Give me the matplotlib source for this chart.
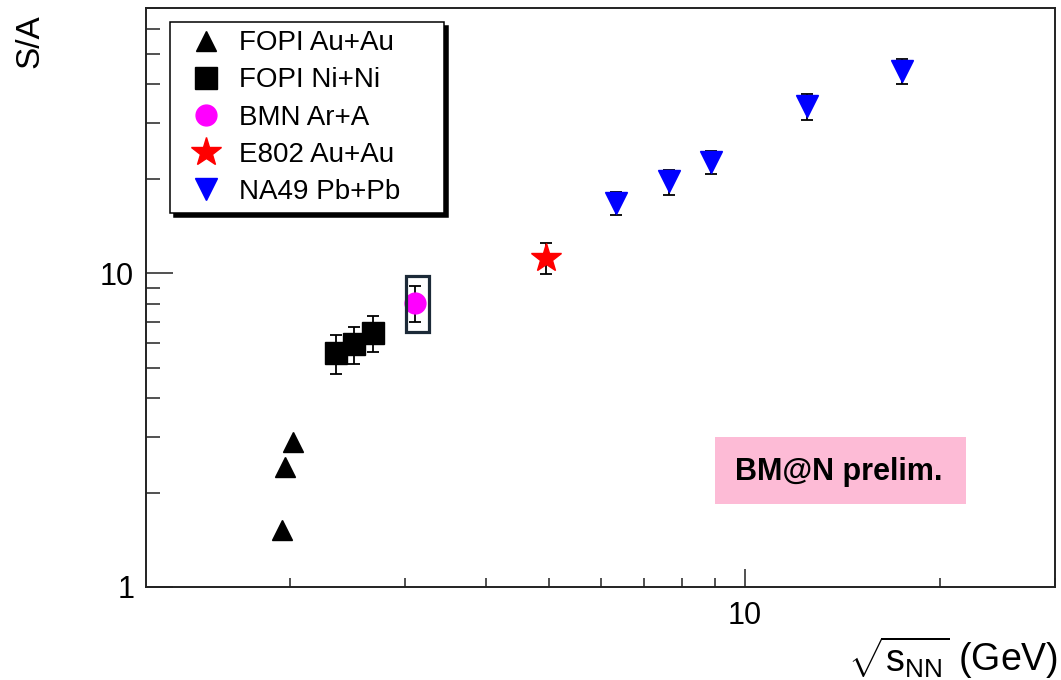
import numpy as np
import matplotlib
matplotlib.use("Agg")
import matplotlib.pyplot as plt
from matplotlib.ticker import NullFormatter, FormatStrFormatter, LogLocator
from matplotlib.patches import Rectangle

plt.rcParams['font.family'] = ['Liberation Sans', 'DejaVu Sans']
plt.rcParams['mathtext.fontset'] = 'custom'
plt.rcParams['mathtext.rm'] = 'Liberation Sans'
plt.rcParams['mathtext.it'] = 'Liberation Sans'

# data
fopi_au_x = [1.94, 1.96, 2.02]
fopi_au_y = [1.52, 2.41, 2.90]

fopi_ni_x = [2.35, 2.51, 2.68]
fopi_ni_y = [5.56, 5.94, 6.44]
fopi_ni_err = [0.80, 0.80, 0.85]

bmn_x = [3.11]
bmn_y = [8.03]
bmn_err = [1.05]

e802_x = [4.95]
e802_y = [11.2]
e802_err = [1.25]

na49_x = [6.34, 7.64, 8.87, 12.45, 17.47]
na49_y = [16.7, 19.6, 22.6, 34.0, 44.2]
na49_err = [1.4, 1.8, 1.9, 3.3, 4.0]

W, H = 1061, 680
fig = plt.figure(figsize=(W / 100, H / 100), dpi=100)
ax = fig.add_axes([146 / W, 1 - 587 / H, (1055 - 146) / W, (587 - 8) / H])
ax.set_xscale('log')
ax.set_yscale('log')
ax.set_xlim(1.2, 30)
ax.set_ylim(1, 70)

ebkw = dict(fmt='none', ecolor='black', elinewidth=1.3, capsize=4, capthick=1.3, zorder=2)
ax.errorbar(fopi_ni_x, fopi_ni_y, yerr=fopi_ni_err, **ebkw)
ax.errorbar(bmn_x, bmn_y, yerr=bmn_err, **ebkw)
ax.errorbar(e802_x, e802_y, yerr=e802_err, **ebkw)
ax.errorbar(na49_x, na49_y, yerr=na49_err, **ebkw)

ax.plot(fopi_au_x, fopi_au_y, '^', color='black', ms=15, mec='black', ls='none', zorder=3, label='FOPI Au+Au')
ax.plot(fopi_ni_x, fopi_ni_y, 's', color='black', ms=16, mec='black', ls='none', zorder=3, label='FOPI Ni+Ni')
ax.plot(bmn_x, bmn_y, 'o', color='#ff00ff', ms=15, mec='#ff00ff', ls='none', zorder=3, label='BMN Ar+A')
ax.plot(e802_x, e802_y, '*', color='#ff0000', ms=22, mec='#ff0000', ls='none', zorder=3, label='E802 Au+Au')
ax.plot(na49_x, na49_y, 'v', color='#0000ff', ms=16, mec='#0000ff', ls='none', zorder=3, label='NA49 Pb+Pb')

# highlight box around the BM@N point
bx, by = bmn_x[0], bmn_y[0]
ax.add_patch(Rectangle((bx / 1.033, by / 1.237), bx * 1.05 - bx / 1.033, by * 1.218 - by / 1.237,
                       fill=False, edgecolor='#1c2a38', linewidth=2.3, zorder=4))

for s in ax.spines.values():
    s.set_linewidth(1.4)
    s.set_color('#222222')

ax.xaxis.set_minor_locator(LogLocator(base=10, subs=np.arange(2, 10)))
ax.yaxis.set_minor_locator(LogLocator(base=10, subs=np.arange(2, 10)))
ax.xaxis.set_major_formatter(FormatStrFormatter('%g'))
ax.yaxis.set_major_formatter(FormatStrFormatter('%g'))
ax.xaxis.set_minor_formatter(NullFormatter())
ax.yaxis.set_minor_formatter(NullFormatter())
ax.tick_params(axis='both', which='both', direction='in', top=False, right=False,
               width=1.1, color='#222222', labelsize=22)
ax.tick_params(axis='y', which='major', length=19.5, pad=8.5)
ax.tick_params(axis='y', which='minor', length=10)
ax.tick_params(axis='x', which='major', length=13, pad=10)
ax.tick_params(axis='x', which='minor', length=6.5)

leg = ax.legend(loc='upper left', bbox_to_anchor=(170 / W, 1 - 212 / H, (444 - 170) / W, (212 - 22) / H),
                bbox_transform=fig.transFigure, mode='expand', borderaxespad=0,
                fontsize=20, frameon=True, fancybox=False, framealpha=1,
                edgecolor='black', labelspacing=0.4, borderpad=0.3,
                handlelength=2.0, handletextpad=0.2,
                shadow={'ox': 3, 'oy': -3, 'color': 'black', 'alpha': 1})
leg.get_frame().set_linewidth(1.1)

# preliminary label
fig.patches.append(Rectangle((715 / W, 1 - 504 / H), (966 - 715) / W, (504 - 437) / H,
                             transform=fig.transFigure, facecolor='#fdbbd6', edgecolor='none', zorder=5))
fig.text(839 / W, 1 - 472 / H, 'BM@N prelim.', ha='center', va='center', fontsize=22,
         fontweight='bold', family=['Liberation Sans Narrow', 'Liberation Sans'], zorder=6)

fig.text(30 / W, 1 - 14 / H, 'S/A', rotation=90, ha='center', va='top', fontsize=24)
fig.text(1058 / W, 9 / H, r'$\sqrt{\mathrm{s}_{\mathrm{NN}}}$ (GeV)', ha='right', va='baseline', fontsize=27)

fig.savefig('out.png', dpi=100)
plt.close(fig)
